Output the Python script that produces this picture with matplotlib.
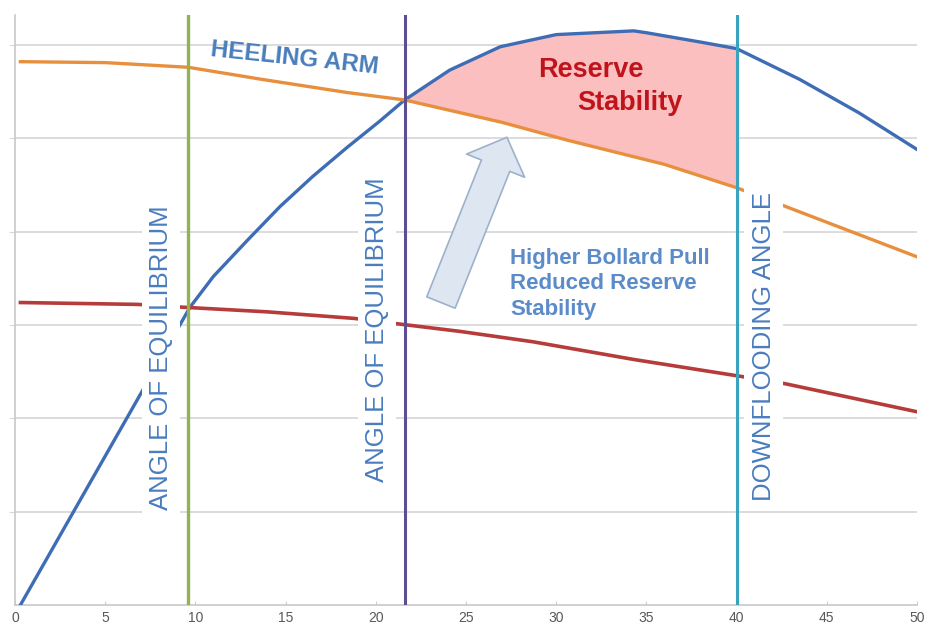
import numpy as np
import matplotlib.pyplot as plt
from matplotlib.patches import FancyArrowPatch

plt.rcParams['font.family'] = ['Liberation Sans', 'DejaVu Sans']

# righting arm (GZ) curve
gz_angle = [0.3, 9.7, 11.0, 12.9, 14.7, 16.5, 18.4, 20.2, 21.6, 24.1, 26.9, 30.0,
            34.3, 35.0, 38.0, 40.0, 43.5, 46.8, 50.0]
gz_value = [0.0, 3.19, 3.52, 3.91, 4.27, 4.59, 4.90, 5.18, 5.41, 5.73, 5.98, 6.11,
            6.15, 6.13, 6.03, 5.96, 5.63, 5.27, 4.88]

# heeling arm, high bollard pull
heel_hi_angle = [0.3, 5.0, 9.6, 13.7, 18.4, 21.6, 27.0, 30.6, 36.0, 40.0, 42.7, 50.0]
heel_hi_value = [5.82, 5.81, 5.76, 5.63, 5.49, 5.41, 5.17, 4.98, 4.72, 4.47, 4.27, 3.73]

# heeling arm, low bollard pull
heel_lo_angle = [0.3, 6.8, 9.3, 14.0, 18.8, 21.3, 24.7, 28.7, 34.3, 40.2, 42.7, 50.0]
heel_lo_value = [3.24, 3.22, 3.19, 3.14, 3.07, 3.01, 2.93, 2.82, 2.63, 2.45, 2.37, 2.07]

equil_low = 9.6
equil_high = 21.6
downflooding = 40.0

fig = plt.figure(figsize=(9.25, 6.28), dpi=100)
ax = fig.add_axes([15 / 925, 23 / 628, 902 / 925, 590 / 628])

ax.set_xlim(0, 50)
ax.set_ylim(0, 6.32)
ax.set_xticks(np.arange(0, 51, 5))
ax.set_yticks(np.arange(1, 7))
ax.grid(axis='y', color='#d9d9d9', lw=1.3, zorder=0)
ax.set_axisbelow(True)
for s in ['top', 'right']:
    ax.spines[s].set_visible(False)
for s in ['left', 'bottom']:
    ax.spines[s].set_color('#c8c8c8')
    ax.spines[s].set_linewidth(1.2)
ax.tick_params(axis='y', length=4, color='#d9d9d9', labelleft=False)
ax.tick_params(axis='x', length=3, direction='in', color='#d0d0d0',
               labelsize=10, labelcolor='#595959', pad=4)
for lab in ax.get_xticklabels():
    lab.set_family(['Liberation Sans Narrow', 'Liberation Sans'])

# reserve stability area
xs = np.linspace(equil_high, downflooding, 300)
ax.fill_between(xs, np.interp(xs, heel_hi_angle, heel_hi_value),
                np.interp(xs, gz_angle, gz_value), color='#fbbfbf', lw=0, zorder=1)

ax.plot(gz_angle, gz_value, color='#3e6db5', lw=2.4, zorder=3)
ax.plot(heel_hi_angle, heel_hi_value, color='#e88f3e', lw=2.4, zorder=3)
ax.plot(heel_lo_angle, heel_lo_value, color='#b53c3a', lw=2.6, zorder=3)

ax.axvline(equil_low, color='#93b350', lw=2.4, zorder=5)
ax.axvline(equil_high, color='#5d4d91', lw=2.2, zorder=5)
ax.axvline(downflooding, color='#3aa3bd', lw=2.2, zorder=5)

box = dict(boxstyle='square,pad=0.28', fc='white', ec='none')
lbl_color = '#4a7dbf'
ax.text(8.09, 2.65, 'ANGLE OF EQUILIBRIUM', rotation=90, ha='center', va='center',
        fontsize=18.5, color=lbl_color, bbox=box, zorder=4)
ax.text(20.07, 2.95, 'ANGLE OF EQUILIBRIUM', rotation=90, ha='center', va='center',
        fontsize=18.5, color=lbl_color, bbox=box, zorder=4)
ax.text(41.5, 2.77, 'DOWNFLOODING ANGLE', rotation=90, ha='center', va='center',
        fontsize=18.5, color=lbl_color, bbox=box, zorder=4)

ax.text(15.5, 5.86, 'HEELING ARM', rotation=-6, ha='center', va='center',
        fontsize=17.5, fontweight='bold', color='#4a7ebb', zorder=6)
ax.text(31.9, 5.73, 'Reserve', ha='center', va='center',
        fontsize=19.5, fontweight='bold', color='#c0141c', zorder=6)
ax.text(34.1, 5.38, 'Stability', ha='center', va='center',
        fontsize=19.5, fontweight='bold', color='#c0141c', zorder=6)
ax.text(27.44, 3.44, 'Higher Bollard Pull\nReduced Reserve\nStability', ha='left',
        va='center', fontsize=16, fontweight='bold', color='#5b8bc8',
        linespacing=1.3, zorder=6)

arrow = FancyArrowPatch((23.61, 3.24), (27.27, 5.01), transform=ax.transData,
                        arrowstyle='simple,head_length=22,head_width=45,tail_width=22',
                        mutation_scale=1, shrinkA=0, shrinkB=0,
                        fc='#dde6f1', ec='#9db1cd', lw=1.2, zorder=6)
ax.add_patch(arrow)

fig.savefig('out.png', dpi=100)
